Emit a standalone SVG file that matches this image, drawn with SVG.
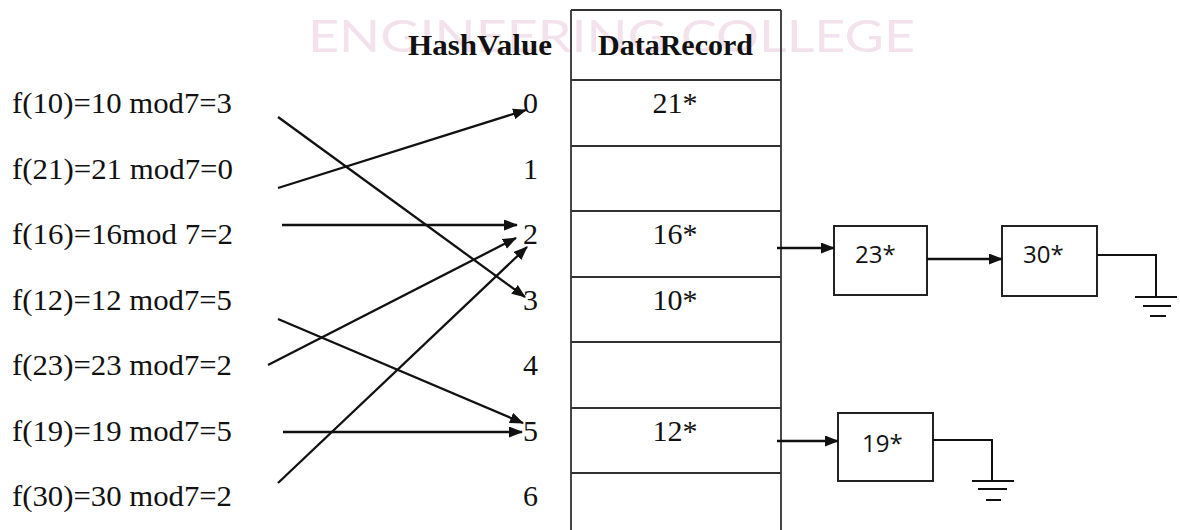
<svg xmlns="http://www.w3.org/2000/svg" width="1180" height="530" viewBox="0 0 1180 530">
<style>
.wm{font-family:"Lato","Liberation Sans","DejaVu Sans",sans-serif;font-weight:400;font-size:44px;fill:#f3e2eb}
.hdr{font-family:"Liberation Serif","Times New Roman",serif;font-size:30px;font-weight:bold;fill:#111}
.lbl{font-family:"Liberation Serif","Times New Roman",serif;font-size:30px;fill:#111}
.hv{font-family:"Liberation Serif","Times New Roman",serif;font-size:30px;fill:#111;text-anchor:end}
.cell{font-family:"Liberation Serif","Times New Roman",serif;font-size:30px;fill:#111;text-anchor:middle}
.box{fill:#fff;stroke:#222;stroke-width:2}
.btx{font-family:"Open Sans","Liberation Sans",sans-serif;font-size:24px;fill:#111}
.tl{stroke:#333;stroke-width:1.8;fill:none}
.cn{stroke:#111;stroke-width:2.3;fill:none}
.gr{stroke:#111;stroke-width:2;fill:none}
</style>
<defs>
<marker id="ah" viewBox="0 0 14 11" refX="13" refY="5.5" markerWidth="14" markerHeight="11" markerUnits="userSpaceOnUse" orient="auto">
<path d="M0,0 L14,5.5 L0,11 z" fill="#111"/>
</marker>
</defs>
<rect width="1180" height="530" fill="#fff"/>
<text class="wm" x="308" y="52" textLength="607" lengthAdjust="spacingAndGlyphs">ENGINEERING COLLEGE</text>

<g id="table">
<line class="tl" x1="571" y1="10" x2="781" y2="10"/>
<line class="tl" x1="571" y1="10" x2="571" y2="530"/>
<line class="tl" x1="781" y1="10" x2="781" y2="530"/>
<line class="tl" x1="571" y1="80" x2="781" y2="80"/>
<line class="tl" x1="571" y1="146" x2="781" y2="146"/>
<line class="tl" x1="571" y1="211" x2="781" y2="211"/>
<line class="tl" x1="571" y1="277" x2="781" y2="277"/>
<line class="tl" x1="571" y1="342" x2="781" y2="342"/>
<line class="tl" x1="571" y1="408" x2="781" y2="408"/>
<line class="tl" x1="571" y1="473" x2="781" y2="473"/>
<text class="hdr" x="598" y="55" textLength="155" lengthAdjust="spacingAndGlyphs">DataRecord</text>
<text class="cell" x="675" y="113">21*</text>
<text class="cell" x="675" y="244">16*</text>
<text class="cell" x="675" y="310">10*</text>
<text class="cell" x="675" y="441">12*</text>
</g>

<g id="hashvalues">
<text class="hdr" x="408" y="55" textLength="144" lengthAdjust="spacingAndGlyphs">HashValue</text>
<text class="hv" x="538" y="113">0</text>
<text class="hv" x="538" y="179">1</text>
<text class="hv" x="538" y="244">2</text>
<text class="hv" x="538" y="310">3</text>
<text class="hv" x="538" y="375">4</text>
<text class="hv" x="538" y="441">5</text>
<text class="hv" x="538" y="506">6</text>
</g>

<g id="labels">
<text class="lbl" x="12" y="113" textLength="220" lengthAdjust="spacingAndGlyphs">f(10)=10 mod7=3</text>
<text class="lbl" x="12" y="179" textLength="221" lengthAdjust="spacingAndGlyphs">f(21)=21 mod7=0</text>
<text class="lbl" x="12" y="244" textLength="221" lengthAdjust="spacingAndGlyphs">f(16)=16mod 7=2</text>
<text class="lbl" x="12" y="310" textLength="220" lengthAdjust="spacingAndGlyphs">f(12)=12 mod7=5</text>
<text class="lbl" x="12" y="375" textLength="220" lengthAdjust="spacingAndGlyphs">f(23)=23 mod7=2</text>
<text class="lbl" x="12" y="441" textLength="220" lengthAdjust="spacingAndGlyphs">f(19)=19 mod7=5</text>
<text class="lbl" x="12" y="506" textLength="220" lengthAdjust="spacingAndGlyphs">f(30)=30 mod7=2</text>
</g>

<g id="node23">
<rect class="box" x="834" y="226" width="93" height="69"/>
<text class="btx" x="855" y="263">23*</text>
</g>
<g id="node30">
<rect class="box" x="1002" y="226" width="95" height="70"/>
<text class="btx" x="1023" y="263">30*</text>
</g>
<g id="node19">
<rect class="box" x="838" y="413" width="95" height="68"/>
<text class="btx" x="862" y="452">19*</text>
</g>

<g id="ground1">
<polyline class="gr" points="1097,255 1156,255 1156,297"/>
<line class="gr" x1="1135" y1="297" x2="1177" y2="297"/>
<line class="gr" x1="1143" y1="306" x2="1171" y2="306"/>
<line class="gr" x1="1150" y1="316" x2="1166" y2="316"/>
</g>
<g id="ground2">
<polyline class="gr" points="933,440 992,440 992,481"/>
<line class="gr" x1="972" y1="481" x2="1014" y2="481"/>
<line class="gr" x1="978" y1="489" x2="1007" y2="489"/>
<line class="gr" x1="986" y1="500" x2="1001" y2="500"/>
</g>

<g id="connectors">
<line class="cn" x1="278" y1="117" x2="525" y2="297" marker-end="url(#ah)"/>
<line class="cn" x1="278" y1="188" x2="526" y2="110" marker-end="url(#ah)"/>
<line class="cn" x1="282" y1="225" x2="517" y2="225" marker-end="url(#ah)"/>
<line class="cn" x1="278" y1="319" x2="523" y2="423" marker-end="url(#ah)"/>
<line class="cn" x1="268" y1="365" x2="516" y2="238" marker-end="url(#ah)"/>
<line class="cn" x1="283" y1="432" x2="522" y2="432" marker-end="url(#ah)"/>
<line class="cn" x1="278" y1="483" x2="527" y2="247" marker-end="url(#ah)"/>
<line class="cn" x1="777" y1="248" x2="834" y2="248" marker-end="url(#ah)"/>
<line class="cn" x1="927" y1="259" x2="1002" y2="259" marker-end="url(#ah)"/>
<line class="cn" x1="777" y1="441" x2="838" y2="441" marker-end="url(#ah)"/>
</g>
</svg>
